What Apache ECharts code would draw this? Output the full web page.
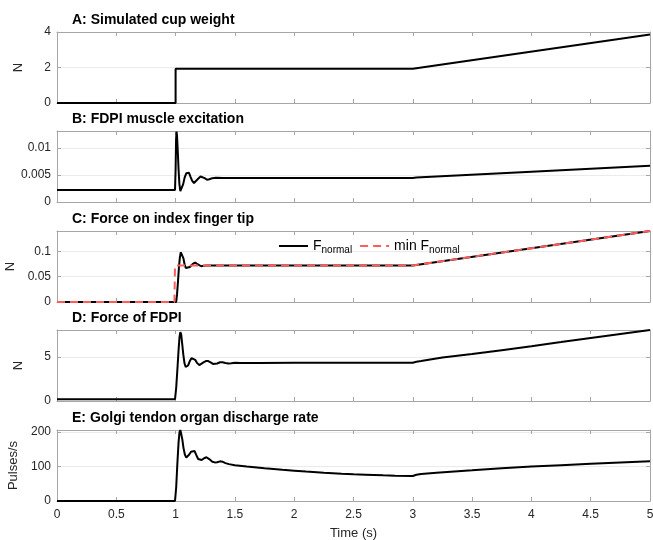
<!DOCTYPE html>
<html>
<head>
<meta charset="utf-8">
<title>Cup weight simulation</title>
<script src="https://cdn.jsdelivr.net/npm/echarts@6/dist/echarts.min.js"></script>
<style>
  html, body { margin: 0; padding: 0; background: #fff; }
  #chart { width: 653px; height: 540px; }
</style>
</head>
<body>
<div id="chart"></div>
<script>
// data (time in s)
var tA = [0, 1, 1, 3, 5];
var cupWeight = [0, 0, 1.93, 1.93, 3.86];

var tB = [0, 0.995, 1.0, 1.004, 1.008, 1.012, 1.018, 1.025, 1.032, 1.04, 1.046, 1.054, 1.064, 1.076, 1.09, 1.103, 1.113,
          1.125, 1.14, 1.155, 1.17, 1.19, 1.21, 1.225, 1.245, 1.265, 1.285, 1.31, 1.34, 1.4, 2, 3, 3.03, 3.07, 4, 5];
var excitation = [0.0022, 0.0022, 0.006, 0.0115, 0.013, 0.0122, 0.0095, 0.006, 0.0033, 0.002, 0.0019, 0.0023, 0.0033, 0.0045, 0.0053, 0.0055, 0.0054,
                  0.0047, 0.0039, 0.0035, 0.0037, 0.0043, 0.0047, 0.0047, 0.0044, 0.0041, 0.0042, 0.0044, 0.00448, 0.00443, 0.00444, 0.00444, 0.00452, 0.00458, 0.0056, 0.0067];

var tC = [0, 1.005, 1.012, 1.02, 1.028, 1.036, 1.044, 1.05, 1.057, 1.066, 1.076, 1.086, 1.1, 1.12, 1.145, 1.165, 1.185, 1.2, 1.215, 1.235, 1.26, 1.3, 3, 5];
var fNormal = [0, 0, 0.015, 0.04, 0.068, 0.088, 0.098, 0.1, 0.097, 0.086, 0.074, 0.067, 0.066, 0.069, 0.075, 0.0775, 0.0745, 0.0712, 0.0705, 0.0715, 0.0722, 0.072, 0.072, 0.14];
var tCmin = [0, 0.99, 0.995, 3, 5];
var minFNormal = [0, 0, 0.072, 0.072, 0.14];

var tD = [0, 0.995, 1.005, 1.015, 1.025, 1.033, 1.04, 1.047, 1.055, 1.065, 1.075, 1.085, 1.095, 1.105, 1.12, 1.135, 1.15, 1.165, 1.18, 1.2,
          1.215, 1.235, 1.255, 1.275, 1.295, 1.315, 1.33, 1.35, 1.375, 1.395, 1.42, 1.445, 1.47, 1.5, 1.55, 1.7, 2, 3, 3.03, 3.07,
          3.25, 3.5, 3.75, 4, 4.25, 4.5, 4.75, 5];
var forceFDPI = [0.2, 0.2, 1.5, 3.6, 5.8, 7.3, 7.85, 7.6, 6.6, 5.3, 4.3, 3.88, 3.85, 4.05, 4.55, 4.9, 4.95, 4.7, 4.35, 4.1,
                 4.15, 4.4, 4.55, 4.55, 4.4, 4.23, 4.2, 4.28, 4.42, 4.43, 4.33, 4.27, 4.3, 4.36, 4.33, 4.34, 4.36, 4.37, 4.48, 4.56,
                 4.95, 5.35, 5.8, 6.25, 6.72, 7.2, 7.65, 8.1];

var tE = [0, 0.995, 1.005, 1.015, 1.025, 1.033, 1.04, 1.047, 1.056, 1.066, 1.078, 1.09, 1.1, 1.115, 1.13, 1.145, 1.16, 1.175, 1.19, 1.205,
          1.22, 1.24, 1.26, 1.275, 1.29, 1.31, 1.33, 1.35, 1.375, 1.395, 1.42, 1.45, 1.5, 1.6, 1.75, 1.9, 2, 2.1, 2.25, 2.4, 2.5,
          2.6, 2.75, 2.85, 3, 3.03, 3.07, 3.2, 3.35, 3.5, 3.75, 4, 4.25, 4.5, 4.75, 5];
var golgiRate = [0, 0, 40, 110, 170, 200, 206, 202, 180, 155, 135, 126, 127, 135, 143, 147, 145, 133, 122, 118,
                 119, 124, 127, 126, 120, 114, 112, 112.5, 115, 114, 110, 107, 104, 100, 95, 90.5, 88, 85.5, 82, 79, 77.5,
                 76.3, 74.5, 73.5, 72.5, 76, 78.5, 82, 85.5, 89, 95, 100, 104, 108, 111.5, 115];

var titles = ['A: Simulated cup weight', 'B: FDPI muscle excitation', 'C: Force on index finger tip', 'D: Force of FDPI', 'E: Golgi tendon organ discharge rate'];
var yNames = ['N', '', 'N', 'N', 'Pulses/s'];
var yMax = [4, 0.0131, 0.14, 8.1, 206];
var yStep = [2, 0.005, 0.05, 5, 100];

function zip(t, v) {
    return t.map(function (x, i) { return [x, v[i]]; });
}

var font = 'Liberation Sans, Arial, Helvetica, sans-serif';
var boxColor = '#a6a6a6';
var tops = [32, 131, 231, 330, 430];
var h = 71;

var chart = echarts.init(document.getElementById('chart'));

var grid = [], xAxis = [], yAxis = [], title = [];
tops.forEach(function (top, i) {
    grid.push({left: 57, right: 3, top: top, height: h, outerBoundsMode: 'none', containLabel: false});
    title.push({
        text: titles[i], left: 72, top: top - 19, padding: 0,
        textStyle: {fontFamily: font, fontSize: 14, fontWeight: 'bold', color: '#000'}
    });
    var tickStyle = {show: true, inside: true, length: 4, lineStyle: {color: boxColor}};
    xAxis.push({
        type: 'value', gridIndex: i, min: 0, max: 5, interval: 0.5,
        axisLine: {onZero: false, lineStyle: {color: boxColor}},
        axisTick: tickStyle,
        axisLabel: {show: i === 4, margin: 8, color: '#262626', fontFamily: font, fontSize: 12},
        splitLine: {show: false},
        name: i === 4 ? 'Time (s)' : '', nameLocation: 'middle', nameGap: 26,
        nameTextStyle: {fontFamily: font, fontSize: 13, color: '#262626'}
    });
    xAxis.push({
        type: 'value', gridIndex: i, position: 'top', min: 0, max: 5, interval: 0.5,
        axisLine: {onZero: false, lineStyle: {color: boxColor}},
        axisTick: tickStyle, axisLabel: {show: false}, splitLine: {show: false}
    });
    yAxis.push({
        type: 'value', gridIndex: i, min: 0, max: yMax[i], interval: yStep[i],
        axisLine: {show: true, onZero: false, lineStyle: {color: boxColor}},
        axisTick: tickStyle,
        axisLabel: {margin: 6, color: '#262626', fontFamily: font, fontSize: 12, showMaxLabel: i === 0},
        splitLine: {show: true, lineStyle: {color: '#ebebeb'}},
        name: yNames[i], nameLocation: 'middle', nameGap: 32,
        nameTextStyle: {fontFamily: font, fontSize: 13, color: '#262626'}
    });
    yAxis.push({
        type: 'value', gridIndex: i, position: 'right', min: 0, max: yMax[i], interval: yStep[i],
        axisLine: {show: true, onZero: false, lineStyle: {color: boxColor}},
        axisTick: tickStyle, axisLabel: {show: false}, splitLine: {show: false}
    });
});

function line(name, idx, data, opts) {
    var s = {
        name: name, type: 'line', xAxisIndex: idx * 2, yAxisIndex: idx * 2,
        data: data, showSymbol: false, symbol: 'none', smooth: false,
        lineStyle: {color: '#000', width: 2}, itemStyle: {color: '#000'}
    };
    for (var k in opts) s[k] = opts[k];
    return s;
}

chart.setOption({
    animation: false,
    title: title,
    grid: grid,
    xAxis: xAxis,
    yAxis: yAxis,
    legend: {
        left: 278, top: 239, padding: 0, itemWidth: 29, itemHeight: 12, itemGap: 7,
        itemStyle: {opacity: 0},
        data: ['F_normal', 'min F_normal'],
        formatter: function (n) {
            return n === 'F_normal' ? '{m|F}{s|normal}' : '{m|min F}{s|normal}';
        },
        textStyle: {
            fontFamily: font, color: '#000',
            rich: {
                m: {fontFamily: font, fontSize: 14, color: '#000'},
                s: {fontFamily: font, fontSize: 10, color: '#000', padding: [9, 0, 0, 0]}
            }
        }
    },
    series: [
        line('cup', 0, zip(tA, cupWeight)),
        line('excitation', 1, zip(tB, excitation)),
        line('F_normal', 2, zip(tC, fNormal)),
        line('min F_normal', 2, zip(tCmin, minFNormal), {
            lineStyle: {color: '#ff5c5c', width: 2, type: [8, 5]}, itemStyle: {color: '#ff5c5c'}
        }),
        line('fdpi', 3, zip(tD, forceFDPI)),
        line('golgi', 4, zip(tE, golgiRate))
    ]
});
</script>
</body>
</html>
